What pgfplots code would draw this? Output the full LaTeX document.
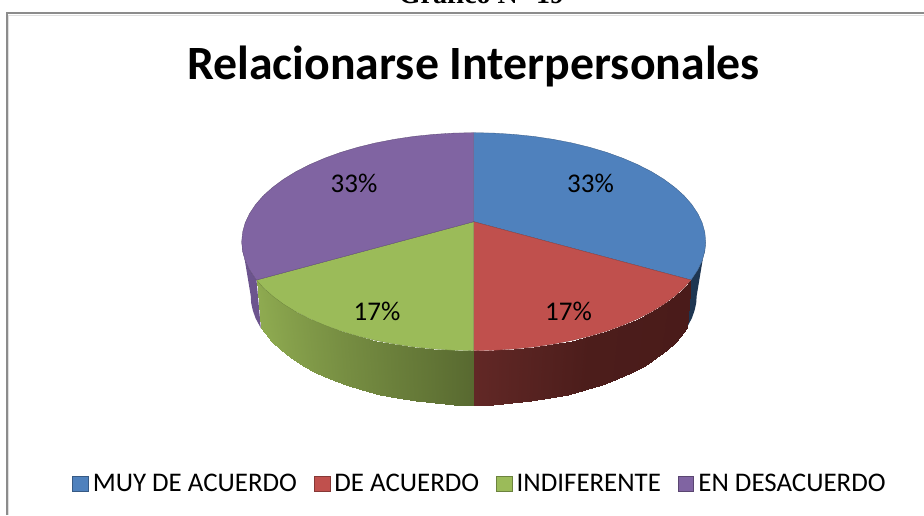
\documentclass[border=0pt]{standalone}
\usepackage{pgfplots}
\pgfplotsset{compat=1.18}
\usepackage{fontspec}
\setmainfont{Carlito}
\newfontfamily\timesf{Liberation Serif}
\definecolor{cblue}{RGB}{79,129,189}
\definecolor{cred}{RGB}{192,80,77}
\definecolor{cgreen}{RGB}{155,187,89}
\definecolor{cpurple}{RGB}{128,100,162}
\definecolor{frameg}{RGB}{140,140,140}
\pgfplotsset{swatch/.style={legend image code/.code={\path[##1,line width=0.9pt] (0pt,-7.5pt) rectangle (15.5pt,7.5pt);}}}
\begin{document}
\begin{tikzpicture}[x=1pt,y=1pt]
\clip (0,0) rectangle (924,515);
\begin{axis}[
  at={(0,0)},anchor=south west,
  scale only axis,width=924pt,height=515pt,
  xmin=0,xmax=924,ymin=0,ymax=515,y dir=reverse,
  axis lines=none,clip=false,
  legend columns=4,
  legend cell align=left,
  legend style={at={(481/924,1-484/515)},anchor=center,draw=none,fill=none,
    font=\fontsize{26.9}{28}\selectfont,inner sep=0pt,
    nodes={inner xsep=4pt,inner ysep=0pt},
    /tikz/every even column/.append style={column sep=13pt}},
]
% frame
\addplot[forget plot,frameg,line width=2pt] coordinates {(7,515) (7,13) (924,13)};
\addplot[forget plot,gray!25,line width=1pt] coordinates {(8.5,515) (8.5,15) (924,15)};

% side faces
\addplot[forget plot,fill={rgb,255:red,30;green,54;blue,82},draw=none] coordinates {
 (705.7,241.7)(704.8,251.2)(702.2,260.6)(697.8,269.9)(691.7,279.0)(690.9,280.0)
 (686.6,328.1)(691.8,318.3)(694.5,310.7)(696.2,303.1)(696.7,295.5)} -- cycle;
\addplot[forget plot,fill={rgb,255:red,108;green,84;blue,142},draw=none] coordinates {
 (241.7,241.7)(242.6,251.2)(245.2,260.6)(249.6,269.9)(255.7,279.0)(256.5,280.0)
 (260.8,328.1)(255.6,318.3)(252.9,310.7)(251.2,303.1)(250.7,295.5)} -- cycle;
\addplot[forget plot,surf,shader=interp,mesh/rows=2,point meta=explicit,
  colormap={sr}{rgb255=(74,27,26) rgb255=(76,29,27) rgb255=(98,40,38)},
  point meta min=0,point meta max=1]
 table[meta=c] {
x y c
690.9 280.0 0.00
684.0 287.8 0.04
674.6 296.2 0.09
663.8 304.2 0.15
651.4 311.8 0.21
637.7 318.8 0.28
622.8 325.2 0.35
606.8 331.0 0.43
589.7 336.1 0.50
571.7 340.5 0.58
553.0 344.1 0.66
533.7 347.0 0.74
514.0 349.0 0.82
493.9 350.3 0.91
473.7 350.7 1.00
686.6 328.1 0.00
675.8 341.8 0.04
666.8 350.3 0.09
656.4 358.3 0.15
644.5 365.9 0.21
631.4 372.9 0.28
617.0 379.4 0.35
601.6 385.2 0.43
585.2 390.3 0.50
567.9 394.7 0.58
550.0 398.4 0.66
531.4 401.3 0.74
512.4 403.3 0.82
493.1 404.6 0.91
473.7 405.0 1.00
};
\addplot[forget plot,surf,shader=interp,mesh/rows=2,point meta=explicit,
  colormap={sg}{rgb255=(88,105,48) rgb255=(142,170,80)},
  point meta min=0,point meta max=1]
 table[meta=c] {
x y c
473.7 350.7 0.00
453.5 350.3 0.09
433.4 349.0 0.18
413.7 347.0 0.26
394.4 344.1 0.34
375.7 340.5 0.42
357.7 336.1 0.50
340.6 331.0 0.57
324.6 325.2 0.65
309.7 318.8 0.72
296.0 311.8 0.79
283.6 304.2 0.85
272.8 296.2 0.91
263.4 287.8 0.96
256.5 280.0 1.00
473.7 405.0 0.00
454.3 404.6 0.09
435.0 403.3 0.18
416.0 401.3 0.26
397.4 398.4 0.34
379.5 394.7 0.42
362.2 390.3 0.50
345.8 385.2 0.57
330.4 379.4 0.65
316.0 372.9 0.72
302.9 365.9 0.79
291.0 358.3 0.85
280.6 350.3 0.91
271.6 341.8 0.96
260.8 328.1 1.00
};

% top faces
\addplot[swatch,fill=cblue,draw=cblue!70!black,line width=0.3pt] coordinates {
 (473.7,221.7)(473.7,132.7)(493.9,133.1)(514.0,134.4)(533.7,136.4)(553.0,139.3)(571.7,142.9)
 (589.7,147.3)(606.8,152.4)(622.8,158.2)(637.7,164.6)(651.4,171.6)(663.8,179.2)(674.6,187.2)
 (684.0,195.6)(691.7,204.4)(697.8,213.5)(702.2,222.8)(704.8,232.2)(705.7,241.7)(704.8,251.2)
 (702.2,260.6)(697.8,269.9)(691.7,279.0)(690.9,280.0)} -- cycle;
\addlegendentry{MUY DE ACUERDO}
\addplot[swatch,fill=cred,draw=cred!70!black,line width=0.3pt] coordinates {
 (473.7,221.7)(690.9,280.0)(684.0,287.8)(674.6,296.2)(663.8,304.2)(651.4,311.8)(637.7,318.8)
 (622.8,325.2)(606.8,331.0)(589.7,336.1)(571.7,340.5)(553.0,344.1)(533.7,347.0)(514.0,349.0)
 (493.9,350.3)(473.7,350.7)} -- cycle;
\addlegendentry{DE ACUERDO}
\addplot[swatch,fill=cgreen,draw=cgreen!70!black,line width=0.3pt] coordinates {
 (473.7,221.7)(473.7,350.7)(453.5,350.3)(433.4,349.0)(413.7,347.0)(394.4,344.1)(375.7,340.5)
 (357.7,336.1)(340.6,331.0)(324.6,325.2)(309.7,318.8)(296.0,311.8)(283.6,304.2)(272.8,296.2)
 (263.4,287.8)(256.5,280.0)} -- cycle;
\addlegendentry{INDIFERENTE}
\addplot[swatch,fill=cpurple,draw=cpurple!70!black,line width=0.3pt] coordinates {
 (473.7,221.7)(256.5,280.0)(255.7,279.0)(249.6,269.9)(245.2,260.6)(242.6,251.2)(241.7,241.7)
 (242.6,232.2)(245.2,222.8)(249.6,213.5)(255.7,204.4)(263.4,195.6)(272.8,187.2)(283.6,179.2)
 (296.0,171.6)(309.7,164.6)(324.6,158.2)(340.6,152.4)(357.7,147.3)(375.7,142.9)(394.4,139.3)
 (413.7,136.4)(433.4,134.4)(453.5,133.1)(473.7,132.7)} -- cycle;
\addlegendentry{EN DESACUERDO}

% texts
\node[font=\fontsize{27}{28}\selectfont,inner sep=0pt] at (axis cs:590.5,183.5) {33\%};
\node[font=\fontsize{27}{28}\selectfont,inner sep=0pt] at (axis cs:354,183.5) {33\%};
\node[font=\fontsize{27}{28}\selectfont,inner sep=0pt] at (axis cs:377,311) {17\%};
\node[font=\fontsize{27}{28}\selectfont,inner sep=0pt] at (axis cs:568.5,311) {17\%};
\node[font=\fontsize{47.8}{50}\selectfont\bfseries,inner sep=0pt,anchor=base] at (axis cs:473.5,79) {Relacionarse Interpersonales};
\node[font=\timesf\fontsize{28}{30}\selectfont\bfseries,inner sep=0pt,anchor=base] at (axis cs:481.5,3) {Gráfico N° 19};
\end{axis}
\end{tikzpicture}
\end{document}
